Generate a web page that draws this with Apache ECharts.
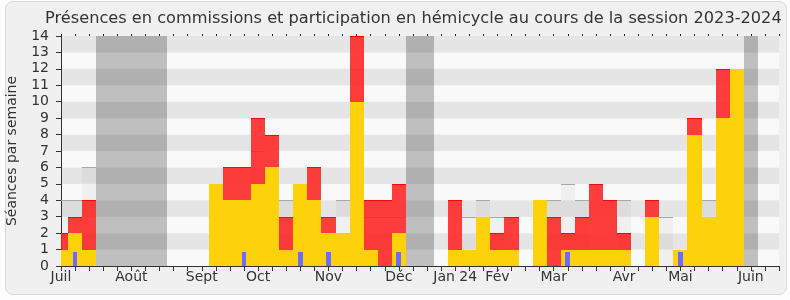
<!DOCTYPE html>
<html><head><meta charset="utf-8">
<script src="https://cdn.jsdelivr.net/npm/echarts@6/dist/echarts.min.js"></script>
<style>
html,body{margin:0;padding:0;background:#fdfdfd}
#panel{position:absolute;left:5px;top:1px;width:780px;height:292px;border:1px solid #d9d9d9;border-radius:8px;background:#f0f0f0}
#c{position:absolute;left:0;top:0;width:790px;height:300px}
</style>
</head><body><div id="panel"></div><div id="c"></div>
<script>
// Week index 0..51 (one bar per week)
const weekCount = 52;
// Month tick labels: week index -> label
const monthWeeks  = [0, 5, 10, 14, 19, 24, 28, 31, 35, 40, 44, 49];
const monthNames  = ['Juil','Août','Sept','Oct','Nov','Déc','Jan 24','Fév','Mar','Avr','Mai','Juin'];
// Présences en commissions (yellow)
const commission = [1,2,1,0,0,0,0,0,0,0, 0,5,4,4,5,6,1,5,4,2, 2,10,1,0,2,0,0,0,1,1, 3,1,1,0,4,0,1,1,1,1, 1,0,3,0,1,8,3,9,12,0, 0,0];
// Participations en hémicycle (red, stacked on yellow)
const hemicycle  = [1,1,3,0,0,0,0,0,0,0, 0,0,2,2,4,2,2,0,2,1, 0,4,3,4,3,0,0,0,3,0, 0,1,2,0,0,3,1,2,4,3, 1,0,1,0,0,1,0,3,0,0, 0,0];
// Séances en hémicycle (light grey outline), 0 = none
const seances    = [4,4,6,0,0,0,0,0,0,0, 0,0,0,0,7,0,4,0,0,0, 4,12,3,3,3,0,0,0,0,3, 4,3,0,0,0,4,5,4,0,0, 4,0,0,3,0,0,4,0,0,0, 0,0];
// Questions (small blue marks)
const questions  = [0,0.87,0,0,0,0,0,0,0,0, 0,0,0,0.87,0,0,0,0.87,0,0.87, 0,0,0,0,0.87,0,0,0,0,0, 0,0,0,0,0,0,0.87,0,0,0, 0,0,0,0,0.87,0,0,0,0,0, 0,0];
// Vacances parlementaires (grey columns)
const vacances   = [3,4,5,6,7,25,26,49];
const yMax = 14;

const FONT = 'DejaVu Sans';
const labelMap = {};
monthWeeks.forEach((w,i)=>{ labelMap[w] = monthNames[i]; });

function clampRect(params, api, x0, x1, y0, y1) {
  const cs = params.coordSys;
  const a = api.coord([x0, y0]);
  const b = api.coord([x1, y1]);
  let left = Math.round(Math.max(cs.x, Math.min(a[0], b[0])));
  let right = Math.round(Math.min(cs.x + cs.width, Math.max(a[0], b[0])));
  const top = Math.round(Math.min(a[1], b[1]));
  const bottom = Math.round(Math.max(a[1], b[1]));
  return {x: left, y: top, width: right - left, height: bottom - top};
}

function barRender(fill, topLine) {
  return function(params, api) {
    const x = api.value(0), y0 = api.value(1), y1 = api.value(2);
    const r = clampRect(params, api, x - 0.5, x + 0.5, y0, y1);
    const children = [{type:'rect', shape: r, style: {fill: fill}}];
    if (topLine) {
      children.push({type:'line', shape:{x1:r.x, y1:r.y+0.5, x2:r.x+r.width, y2:r.y+0.5}, style:{stroke: topLine, lineWidth:1}});
    }
    return {type:'group', children: children};
  };
}

const yellowData = [], redData = [], totalData = [], blueData = [], vacData = [];
for (let i = 0; i < weekCount; i++) {
  if (commission[i] > 0) yellowData.push([i, 0, commission[i]]);
  if (hemicycle[i] > 0) redData.push([i, commission[i], commission[i] + hemicycle[i]]);
  if (seances[i] > 0) totalData.push([i, 0, seances[i]]);
  if (questions[i] > 0) blueData.push([i, 0, questions[i]]);
}
vacances.forEach(w => vacData.push([w, 0, yMax]));

const chart = echarts.init(document.getElementById('c'), null, {renderer:'canvas'});
chart.setOption({
  animation: false,
  backgroundColor: 'transparent',
  textStyle: {fontFamily: FONT},
  title: {
    text: 'Présences en commissions et participation en hémicycle au cours de la session 2023-2024',
    left: 45, top: 11, padding: 0,
    textStyle: {fontFamily: FONT, fontSize: 16.2, fontWeight: 'normal', color: '#333'}
  },
  grid: {left: 61, right: 11, top: 36, bottom: 34, containLabel: false, outerBoundsMode: 'none'},
  xAxis: [{
    type: 'value', min: 0, max: weekCount - 1, interval: 1,
    axisLine: {show: true, lineStyle: {color: '#333', width: 1}},
    axisTick: {show: true, length: 5, lineStyle: {color: '#333'}},
    splitLine: {show: false},
    axisLabel: {
      show: true, margin: 4, fontFamily: FONT, fontSize: 14, color: '#333',
      showMinLabel: true, showMaxLabel: true, hideOverlap: false,
      formatter: v => (labelMap[v] !== undefined ? labelMap[v] : '')
    }
  }, {
    type: 'value', position: 'top', min: 0, max: weekCount - 1, interval: 1,
    axisLine: {show: false},
    axisTick: {show: true, length: 2, lineStyle: {color: '#222'}},
    axisLabel: {show: false}, splitLine: {show: false}
  }],
  yAxis: {
    type: 'value', min: 0, max: yMax, interval: 1,
    name: 'Séances par semaine', nameLocation: 'middle', nameGap: 42,
    nameTextStyle: {fontFamily: FONT, fontSize: 14, color: '#333'},
    axisLine: {show: true, lineStyle: {color: '#333'}},
    axisTick: {show: true, length: 5, lineStyle: {color: '#333'}},
    axisLabel: {
      margin: 12, fontFamily: FONT, fontSize: 14, color: '#333',
      showMinLabel: true, showMaxLabel: true, hideOverlap: false,
      formatter: v => String(v)
    },
    splitLine: {show: false},
    splitArea: {show: true, areaStyle: {color: ['#f9f9f9', '#e5e5e5']}}
  },
  series: [
    {type:'custom', name:'Vacances', data: vacData, z: 1, encode:{x:0, y:[1,2]},
     renderItem: barRender('rgba(20,20,20,0.25)', null)},
    {type:'custom', name:'Séances hémicycle', data: totalData, z: 2, encode:{x:0, y:[1,2]},
     renderItem: barRender('rgba(0,0,0,0.035)', '#a8a8a8')},
    {type:'custom', name:'Présences commissions', data: yellowData, z: 3, encode:{x:0, y:[1,2]},
     renderItem: barRender('#fdd20b', null)},
    {type:'custom', name:'Participations hémicycle', data: redData, z: 4, encode:{x:0, y:[1,2]},
     renderItem: barRender('rgba(255,30,30,0.86)', 'rgba(255,0,0,0.9)')},
    {type:'custom', name:'Questions', data: blueData, z: 5, encode:{x:0, y:[1,2]},
     renderItem: function(params, api) {
       const x = api.value(0);
       const r = clampRect(params, api, x - 0.17, x + 0.17, api.value(1), api.value(2));
       return {type:'rect', shape: r, style: {fill: '#6b6bff'}};
     }}
  ]
});
</script>
</body></html>
